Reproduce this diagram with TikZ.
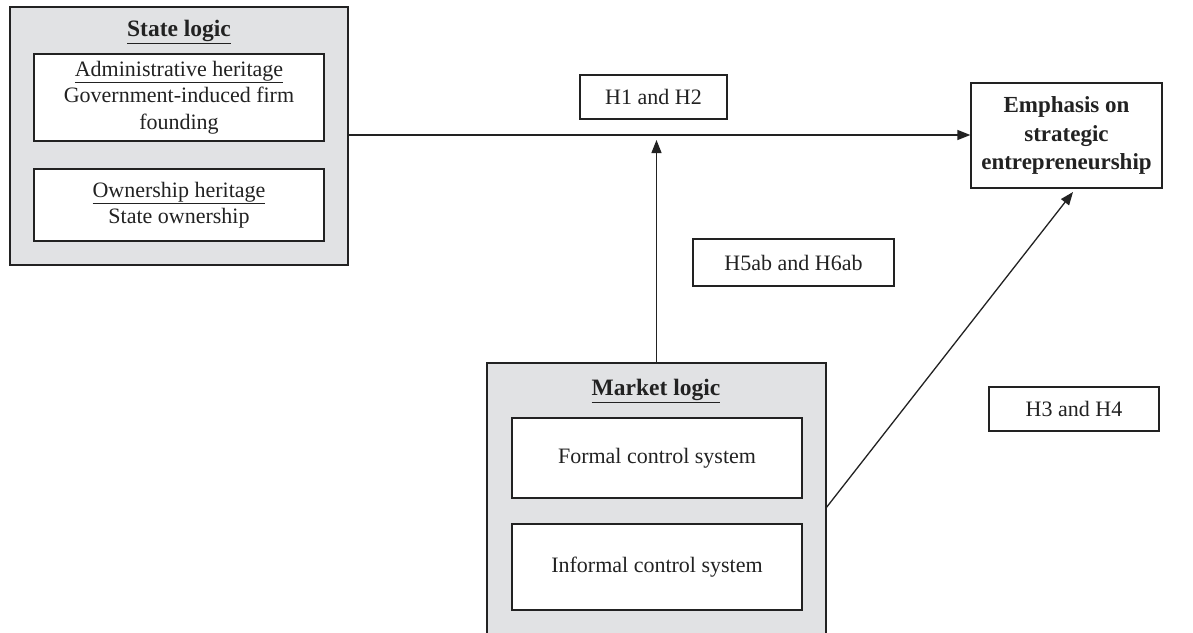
\documentclass[tikz,border=0pt]{standalone}
\usepackage{fontspec}
\setmainfont{Liberation Serif}
\usetikzlibrary{arrows.meta}
\definecolor{ink}{HTML}{222222}
\definecolor{panel}{HTML}{E1E2E4}
\tikzset{
  every node/.style={font=\fontsize{22}{26.4}\selectfont, text=ink},
  outerbox/.style={draw=ink, line width=1.3pt, fill=panel, inner sep=0pt},
  whitebox/.style={draw=ink, line width=1.3pt, fill=white, inner sep=0pt, align=center},
  labelbox/.style={draw=ink, line width=1.3pt, fill=white, inner sep=0pt, align=center},
  titletext/.style={font=\fontsize{23.5}{28}\selectfont\bfseries},
  conn/.style={draw=ink, line width=1.3pt},
  arr/.style={conn, -{Triangle[length=13pt,width=10pt]}}
}
\begin{document}
\begin{tikzpicture}[x=1pt,y=-1pt]
\path[use as bounding box] (0,0) rectangle (1193,632);
\clip (0,0) rectangle (1193,632);
\fill[white] (0,0) rectangle (1193,632);
% State logic
\node[outerbox, minimum width=338pt, minimum height=258pt] (state) at (179,136) {};
\node[titletext] (statetitle) at (179,32) {\underline{State logic}};
\node[whitebox, minimum width=290pt, minimum height=87pt] (admin) at (179,97.5)
  {\underline{Administrative heritage}\\Government-induced firm\\founding};
\node[whitebox, minimum width=290pt, minimum height=72pt] (own) at (179,205)
  {\underline{Ownership heritage}\\State ownership};
% Emphasis
\node[labelbox, minimum width=191pt, minimum height=105pt, font=\fontsize{23}{28.5}\selectfont\bfseries] (emph) at (1066.5,135.5)
  {Emphasis on\\strategic\\entrepreneurship};
% Hypothesis labels
\node[labelbox, minimum width=147pt, minimum height=44pt] (h12) at (653.5,97) {H1 and H2};
\node[labelbox, minimum width=201pt, minimum height=47pt] (h56) at (793.5,262.5) {H5ab and H6ab};
\node[labelbox, minimum width=170pt, minimum height=44pt] (h34) at (1074,409) {H3 and H4};
% Market logic
\node[outerbox, minimum width=339pt, minimum height=287pt] (market) at (656.5,506.5) {};
\node[titletext] (markettitle) at (656,391) {\underline{Market logic}};
\node[whitebox, minimum width=290pt, minimum height=80pt] (formal) at (657,458) {Formal control system};
\node[whitebox, minimum width=290pt, minimum height=86pt] (informal) at (657,567) {Informal control system};
% connectors
\coordinate (vtip) at (656,140);
\coordinate (dtip) at (1073,192);
\coordinate (dstart) at (826,508);
\draw[arr] (state.east |- 0,135) -- (emph.west |- 0,135);
\draw[arr] (market.north) -- (market.north |- vtip);
\draw[arr] (dstart) -- (dtip);
\end{tikzpicture}
\end{document}
